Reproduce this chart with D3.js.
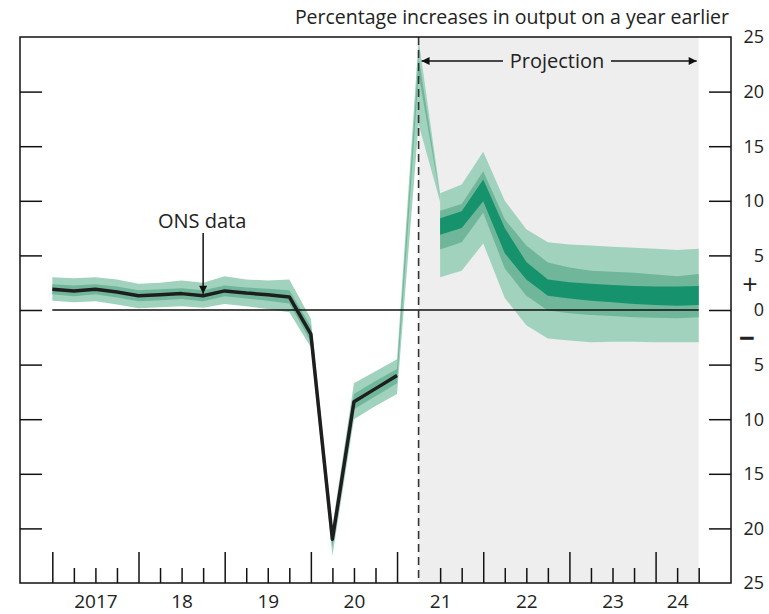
<!DOCTYPE html>
<html>
<head>
<meta charset="utf-8">
<script src="https://cdn.jsdelivr.net/npm/d3@7"></script>
<style>
  body { margin: 0; background: #fff; }
  svg text { font-family: "Open Sans", "Noto Sans", sans-serif; fill: #222; }
</style>
</head>
<body>
<div id="chart"></div>
<script>
// ---------- Data (quarter index 0 = 2017 Q1) ----------
const yearLabels = ["2017", "18", "19", "20", "21", "22", "23", "24"];
const yearLabelPos = [2, 6, 10, 14, 18, 22, 26, 29];
const yTicks = [25, 20, 15, 10, 5, 0, -5, -10, -15, -20, -25];

// ONS data, q = 0..16
const onsGrowth = [1.9, 1.75, 1.9, 1.65, 1.3, 1.4, 1.5, 1.3, 1.75, 1.55, 1.4, 1.2, -2.2, -21.0, -8.4, -7.2, -6.0];

// backcast band, q = 0..18
const backLightUp = [3.0, 2.9, 3.0, 2.8, 2.4, 2.5, 2.7, 2.5, 3.1, 2.8, 2.7, 2.8, -0.8, -19.8, -6.7, -5.6, -4.5, 24.8, 10.7];
const backLightLo = [0.85, 0.7, 0.8, 0.5, 0.15, 0.25, 0.35, 0.2, 0.55, 0.35, 0.1, -0.2, -3.4, -22.5, -10.0, -8.8, -7.7, 17.0, 9.9];
const backMidUp = [2.35, 2.25, 2.35, 2.15, 1.8, 1.9, 2.0, 1.8, 2.25, 2.05, 1.95, 1.8, -1.5, -20.4, -7.7, -6.5, -5.4, 23.2, 10.35];
const backMidLo = [1.45, 1.25, 1.45, 1.15, 0.8, 0.9, 1.0, 0.8, 1.25, 1.05, 0.85, 0.6, -2.9, -21.7, -9.1, -7.9, -6.7, 21.6, 10.3];

// projection fan, q = 18..30
const projStart = 18;
const fanLightUp = [10.7, 11.5, 14.5, 10.0, 7.4, 6.2, 6.0, 5.9, 5.8, 5.7, 5.6, 5.5, 5.6];
const fanMidUp   = [9.1, 9.7, 12.7, 8.3, 5.9, 4.35, 3.9, 3.6, 3.5, 3.4, 3.25, 3.1, 3.3];
const fanDarkUp  = [8.4, 9.05, 11.95, 7.5, 4.4, 2.8, 2.55, 2.4, 2.3, 2.2, 2.15, 2.15, 2.2];
const fanDarkLo  = [6.9, 7.5, 9.95, 5.2, 2.8, 1.3, 1.05, 0.85, 0.7, 0.55, 0.45, 0.4, 0.45];
const fanMidLo   = [5.55, 6.2, 8.9, 3.8, 1.3, -0.05, -0.3, -0.45, -0.55, -0.67, -0.7, -0.76, -0.67];
const fanLightLo = [3.0, 3.6, 6.1, 1.1, -1.4, -2.6, -2.8, -2.95, -2.9, -2.9, -2.95, -2.95, -2.95];

const projectionFrom = 17;
const projectionTo = 30;

// ---------- Dimensions ----------
const W = 769, H = 614;
const plotLeft = 20, plotRight = 731, plotTop = 37, plotBottom = 583;

const svg = d3.select("#chart").append("svg")
    .attr("width", W)
    .attr("height", H);

// ---------- Scales ----------
const x = d3.scaleLinear().domain([-1.5, 31.5]).range([plotLeft, plotRight]);
const y = d3.scaleLinear().domain([-25, 25]).range([plotBottom, plotTop]);

const colLight = "#a1d2be", colMid = "#70b69b", colDark = "#16936d";

// ---------- Projection shading ----------
svg.append("rect")
    .attr("x", x(projectionFrom))
    .attr("y", plotTop)
    .attr("width", x(projectionTo) - x(projectionFrom))
    .attr("height", plotBottom - plotTop)
    .attr("fill", "#eeeeee");

// ---------- Bands ----------
function band(up, lo, offset, color) {
    const rows = up.map((u, i) => ({ q: i + offset, u: u, l: lo[i] }));
    const area = d3.area()
        .x(d => x(d.q))
        .y0(d => y(d.l))
        .y1(d => y(d.u));
    svg.append("path").datum(rows).attr("d", area).attr("fill", color);
}

band(backLightUp, backLightLo, 0, colLight);
band(backMidUp, backMidLo, 0, colMid);

band(fanLightUp, fanLightLo, projStart, colLight);
band(fanMidUp, fanMidLo, projStart, colMid);
band(fanDarkUp, fanDarkLo, projStart, colDark);

// ---------- Zero line ----------
svg.append("line")
    .attr("x1", x(0)).attr("x2", x(projectionTo))
    .attr("y1", y(0)).attr("y2", y(0))
    .attr("stroke", "#111").attr("stroke-width", 1.5);

// ---------- ONS line ----------
svg.append("path")
    .datum(onsGrowth)
    .attr("d", d3.line().x((d, i) => x(i)).y(d => y(d)))
    .attr("fill", "none")
    .attr("stroke", "#1e1e1e")
    .attr("stroke-width", 3.5)
    .attr("stroke-linejoin", "round");

// ---------- Dashed projection line ----------
svg.append("line")
    .attr("x1", x(projectionFrom)).attr("x2", x(projectionFrom))
    .attr("y1", plotTop).attr("y2", plotBottom)
    .attr("stroke", "#333").attr("stroke-width", 1.6)
    .attr("stroke-dasharray", "8,5");

// ---------- Frame ----------
svg.append("rect")
    .attr("x", plotLeft).attr("y", plotTop)
    .attr("width", plotRight - plotLeft).attr("height", plotBottom - plotTop)
    .attr("fill", "none").attr("stroke", "#111").attr("stroke-width", 1.5);

// ---------- Y ticks (inside both sides) ----------
const inner = yTicks.filter(v => Math.abs(v) < 25);
svg.append("g")
    .attr("transform", `translate(${plotLeft},0)`)
    .call(d3.axisRight(y).tickValues(inner).tickSize(22).tickFormat(""))
    .call(g => g.select(".domain").remove())
    .call(g => g.selectAll("line").attr("stroke", "#111").attr("stroke-width", 1.5));

svg.append("g")
    .attr("transform", `translate(${plotRight},0)`)
    .call(d3.axisLeft(y).tickValues(inner).tickSize(22).tickFormat(""))
    .call(g => g.select(".domain").remove())
    .call(g => g.selectAll("line").attr("stroke", "#111").attr("stroke-width", 1.5));

// y labels on the right
svg.append("g").selectAll("text")
    .data(yTicks)
    .join("text")
    .attr("x", 764)
    .attr("y", d => y(d))
    .attr("dy", "0.36em")
    .attr("text-anchor", "end")
    .attr("font-size", 18)
    .text(d => Math.abs(d));

svg.append("text").attr("x", 750).attr("y", y(2.4)).attr("dy", "0.36em")
    .attr("text-anchor", "middle").attr("font-size", 27).text("+");
svg.append("text").attr("x", 747).attr("y", y(-2.6)).attr("dy", "0.36em")
    .attr("text-anchor", "middle").attr("font-size", 28).attr("font-weight", "bold").text("−");

// ---------- X ticks ----------
const quarterTicks = d3.range(0, projectionTo + 1);
svg.append("g")
    .attr("transform", `translate(0,${plotBottom})`)
    .call(d3.axisTop(x).tickValues(quarterTicks.filter(q => q % 4 === 0)).tickSize(31).tickFormat(""))
    .call(g => g.select(".domain").remove())
    .call(g => g.selectAll("line").attr("stroke", "#111").attr("stroke-width", 1.5));

svg.append("g")
    .attr("transform", `translate(0,${plotBottom})`)
    .call(d3.axisTop(x).tickValues(quarterTicks.filter(q => q % 4 !== 0 && q !== projectionFrom)).tickSize(15).tickFormat(""))
    .call(g => g.select(".domain").remove())
    .call(g => g.selectAll("line").attr("stroke", "#111").attr("stroke-width", 1.5));

svg.append("g")
    .attr("transform", `translate(0,${plotBottom})`)
    .call(d3.axisBottom(x).tickValues(yearLabelPos).tickSize(0).tickPadding(12)
        .tickFormat((d, i) => yearLabels[i]))
    .call(g => g.select(".domain").remove())
    .call(g => g.selectAll("text").attr("font-size", 19).attr("fill", "#222")
        .style("font-family", "'Open Sans', 'Noto Sans', sans-serif"));

// ---------- Title ----------
svg.append("text")
    .attr("x", 729).attr("y", 24)
    .attr("text-anchor", "end")
    .attr("font-size", 19.5)
    .text("Percentage increases in output on a year earlier");

// ---------- Projection arrow ----------
const defs = svg.append("defs");
defs.append("marker")
    .attr("id", "head")
    .attr("viewBox", "0 0 10 10")
    .attr("refX", 10).attr("refY", 5)
    .attr("markerWidth", 12).attr("markerHeight", 8)
    .attr("markerUnits", "userSpaceOnUse")
    .attr("orient", "auto-start-reverse")
    .append("path").attr("d", "M0,0L10,5L0,10Z").attr("fill", "#111");

const arrowY = 61;
const projMid = 557;
svg.append("line")
    .attr("x1", x(projectionFrom) + 3).attr("x2", projMid - 54)
    .attr("y1", arrowY).attr("y2", arrowY)
    .attr("stroke", "#111").attr("stroke-width", 1.5)
    .attr("marker-start", "url(#head)");
svg.append("line")
    .attr("x1", projMid + 54).attr("x2", x(projectionTo) - 2)
    .attr("y1", arrowY).attr("y2", arrowY)
    .attr("stroke", "#111").attr("stroke-width", 1.5)
    .attr("marker-end", "url(#head)");
svg.append("text")
    .attr("x", projMid).attr("y", arrowY).attr("dy", "0.36em")
    .attr("text-anchor", "middle").attr("font-size", 20)
    .text("Projection");

// ---------- ONS data label ----------
svg.append("text")
    .attr("x", x(7) - 1).attr("y", 221).attr("dy", "0.36em")
    .attr("text-anchor", "middle").attr("font-size", 20)
    .text("ONS data");
svg.append("line")
    .attr("x1", x(7)).attr("x2", x(7))
    .attr("y1", 233).attr("y2", y(onsGrowth[7]) - 2)
    .attr("stroke", "#111").attr("stroke-width", 1.5)
    .attr("marker-end", "url(#head)");
</script>
</body>
</html>
